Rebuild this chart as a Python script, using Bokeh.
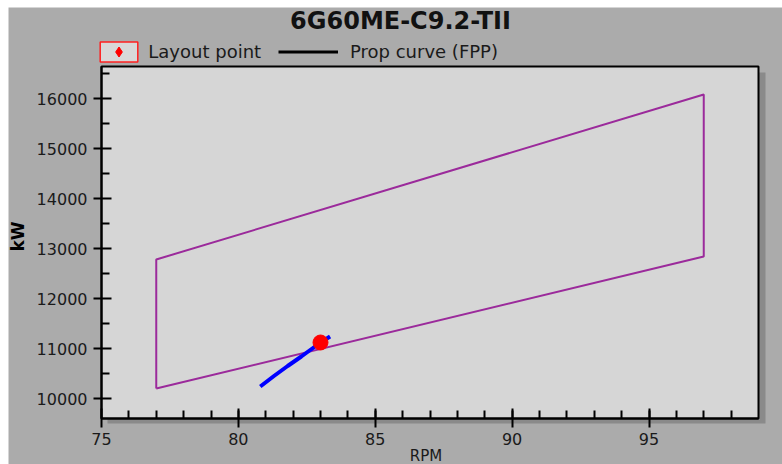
import math
from bokeh.plotting import figure
from bokeh.models import (ColumnDataSource, FixedTicker, Range1d, Label, Legend,
                          LegendItem, BoxAnnotation)
from bokeh.embed import file_html
from bokeh.resources import INLINE

# ---------------- data ----------------
title_text = "6G60ME-C9.2-TII"
x_label = "RPM"
y_label = "kW"
layout_rpm = [77, 97, 97, 77, 77]
layout_kw = [10200, 12840, 16080, 12780, 10200]
point_rpm = [83.0]
point_kw = [11120]
prop_rpm = [80.8, 81.3, 81.8, 82.3, 82.7, 83.0, 83.35]
prop_kw = [10240, 10450, 10650, 10840, 11000, 11120, 11240]
x_ticks = [75, 80, 85, 90, 95]
x_minor = list(range(76, 99))
y_ticks = [10000, 11000, 12000, 13000, 14000, 15000, 16000]
y_minor = [10500, 11500, 12500, 13500, 14500, 15500, 16500]

# ---------------- geometry (pixels) ----------------
W, H = 774, 457            # canvas size
PL, PT = 93, 59            # plot-area left / top inside canvas
PW, PH = 657, 352          # plot-area size
X0, X1 = 75, 99            # axis range of plot area
Y0, Y1 = 9600, 16640

xpp = (X1 - X0) / PW
ypp = (Y1 - Y0) / PH
x_start = X0 - PL * xpp
x_end = X0 + (W - PL) * xpp
y_top = Y1 + PT * ypp
y_bottom = Y1 - (H - PT) * ypp

FONT = "DejaVu Sans"
BG = "#ababab"
PLOT_BG = "#d6d6d6"
SHADOW = "#8a8a8a"
TXT = "#1a1a1a"

p = figure(width=W, height=H, output_backend="svg", toolbar_location=None,
           x_range=Range1d(x_start, x_end), y_range=Range1d(y_bottom, y_top),
           min_border=0)
p.margin = (7, 0, 0, 8)
p.border_fill_color = BG
p.background_fill_color = BG
p.outline_line_color = None
p.xgrid.visible = False
p.ygrid.visible = False

# shadow + plot area
p.add_layout(BoxAnnotation(left=X0 + 6 * xpp, right=X1 + 7 * xpp,
                           top=Y1 - 6 * ypp, bottom=Y0 - 5 * ypp,
                           fill_color=SHADOW, fill_alpha=1, line_alpha=0,
                           level="underlay"))
p.add_layout(BoxAnnotation(left=X0, right=X1, top=Y1, bottom=Y0,
                           fill_color=PLOT_BG, fill_alpha=1,
                           line_color="black", line_width=2, line_alpha=1,
                           level="underlay"))

# axes drawn at the plot-area edges
xa, ya = p.xaxis[0], p.yaxis[0]
xa.fixed_location = Y0
ya.fixed_location = X0
xa.bounds = (X0, X1)
ya.bounds = (Y0, Y1)
for ax in (xa, ya):
    ax.axis_line_width = 2
    ax.major_tick_line_width = 2
    ax.minor_tick_line_width = 2
    ax.major_label_text_font = FONT
    ax.major_label_text_font_size = "16px"
    ax.major_label_text_color = TXT
xa.ticker = FixedTicker(ticks=x_ticks, minor_ticks=x_minor)
ya.ticker = FixedTicker(ticks=y_ticks, minor_ticks=y_minor)
xa.major_tick_in = 10
xa.major_tick_out = 9
xa.minor_tick_in = 8
xa.minor_tick_out = 0
xa.major_label_standoff = 5
ya.major_tick_in = 10
ya.major_tick_out = 8
ya.minor_tick_in = 8
ya.minor_tick_out = 0
ya.major_label_standoff = 6

# layout diagram
p.line(layout_rpm, layout_kw, line_color="#9b2a9b", line_width=2)
# prop curve
p.line(prop_rpm, prop_kw, line_color="#0000ff", line_width=4)
# layout point
p.scatter(point_rpm, point_kw, marker="circle", size=15, fill_color="#ff0000",
          line_color="#ff0000")

# legend glyph renderers (no visible data)
nan = float("nan")
blank = ColumnDataSource(dict(x=[nan], y=[nan]))
r_box = p.rect(x="x", y="y", width=1, height=1, source=blank,
               fill_color="#d8d8d8", line_color="#ff2020", line_width=1.5)
r_dia = p.scatter(x="x", y="y", source=blank, marker="diamond", size=10,
                  fill_color="#ff0000", line_color="#ff0000")
r_line = p.line(x="x", y="y", source=blank, line_color="black", line_width=3)

common = dict(padding=0, margin=0, spacing=0, background_fill_alpha=0,
              border_line_alpha=0, label_text_font=FONT,
              label_text_font_size="18px", label_text_color=TXT,
              label_height=25, glyph_height=25)
leg1 = Legend(items=[LegendItem(label="Layout point", renderers=[r_box, r_dia])],
              location=(87.3, H - 56.5), glyph_width=47, label_standoff=6,
              **common)
leg2 = Legend(items=[LegendItem(label="Prop curve (FPP)", renderers=[r_line])],
              location=(270, H - 56.5), glyph_width=60, label_standoff=12,
              **common)
p.add_layout(leg1)
p.add_layout(leg2)

# title and axis labels
p.add_layout(Label(x=392, y=H - 13, x_units="screen", y_units="screen",
                   text=title_text, text_align="center",
                   text_baseline="alphabetic", text_font=FONT,
                   text_font_style="bold", text_font_size="24px",
                   text_color="#111111"))
p.add_layout(Label(x=PL + PW / 2 - 4, y=9, x_units="screen", y_units="screen",
                   text=x_label, text_align="center",
                   text_baseline="alphabetic", text_font=FONT,
                   text_font_size="15px", text_color=TXT))
p.add_layout(Label(x=9, y=H - 229, x_units="screen", y_units="screen",
                   text=y_label, text_align="center", text_baseline="middle",
                   angle=math.pi / 2, text_font=FONT, text_font_style="bold",
                   text_font_size="17px", text_color="black"))

open("out.html", "w").write(file_html(p, INLINE))
